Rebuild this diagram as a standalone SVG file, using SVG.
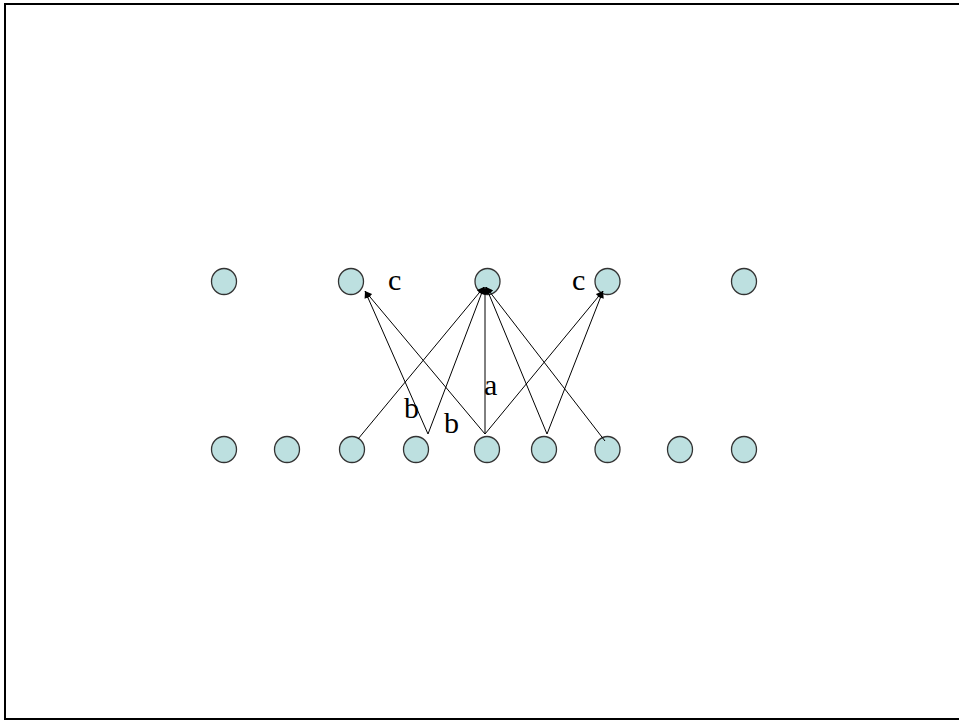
<svg xmlns="http://www.w3.org/2000/svg" width="959" height="720" viewBox="0 0 959 720">
<style>
.n{fill:#bde0e0;stroke:#333;stroke-width:1.3}
.e{stroke:#000;stroke-width:1;fill:none}
.t{font-family:"Liberation Serif","Times New Roman",serif;font-size:30px;fill:#000}
</style>
<defs>
<marker id="ah" viewBox="0 0 10 10" refX="10" refY="5" markerWidth="9" markerHeight="7" markerUnits="userSpaceOnUse" orient="auto">
<path d="M0,0 L10,5 L0,10 z" fill="#000"/>
</marker>
</defs>
<rect x="5" y="4" width="960" height="715" fill="#fff" stroke="#000" stroke-width="2"/>
<g id="nodes">
<g id="t1"><ellipse class="n" cx="224" cy="281.5" rx="12.5" ry="13"/></g>
<g id="t2"><ellipse class="n" cx="351" cy="281.5" rx="12.5" ry="13"/></g>
<g id="t3"><ellipse class="n" cx="487.5" cy="281.5" rx="12.5" ry="13"/></g>
<g id="t4"><ellipse class="n" cx="607.5" cy="281.5" rx="12.5" ry="13"/></g>
<g id="t5"><ellipse class="n" cx="744" cy="281.5" rx="12.5" ry="13"/></g>
<g id="b1"><ellipse class="n" cx="224" cy="449.5" rx="12.5" ry="13"/></g>
<g id="b2"><ellipse class="n" cx="287" cy="449.5" rx="12.5" ry="13"/></g>
<g id="b3"><ellipse class="n" cx="352" cy="449.5" rx="12.5" ry="13"/></g>
<g id="b4"><ellipse class="n" cx="416" cy="449.5" rx="12.5" ry="13"/></g>
<g id="b5"><ellipse class="n" cx="487" cy="449.5" rx="12.5" ry="13"/></g>
<g id="b6"><ellipse class="n" cx="544" cy="449.5" rx="12.5" ry="13"/></g>
<g id="b7"><ellipse class="n" cx="607.5" cy="449.5" rx="12.5" ry="13"/></g>
<g id="b8"><ellipse class="n" cx="680" cy="449.5" rx="12.5" ry="13"/></g>
<g id="b9"><ellipse class="n" cx="744" cy="449.5" rx="12.5" ry="13"/></g>
</g>
<g id="connectors">
<line class="e" x1="358" y1="439" x2="484" y2="287" marker-end="url(#ah)"/>
<line class="e" x1="428" y1="434" x2="365" y2="291" marker-end="url(#ah)"/>
<line class="e" x1="428" y1="434" x2="484" y2="287" marker-end="url(#ah)"/>
<line class="e" x1="485" y1="434" x2="485" y2="287" marker-end="url(#ah)"/>
<line class="e" x1="485" y1="434" x2="365" y2="291" marker-end="url(#ah)"/>
<line class="e" x1="485" y1="434" x2="603" y2="291" marker-end="url(#ah)"/>
<line class="e" x1="547" y1="434" x2="486" y2="287" marker-end="url(#ah)"/>
<line class="e" x1="547" y1="434" x2="603" y2="291" marker-end="url(#ah)"/>
<line class="e" x1="605" y1="441" x2="486" y2="287" marker-end="url(#ah)"/>
</g>
<g id="labels">
<text class="t" x="388" y="290">c</text>
<text class="t" x="572" y="290">c</text>
<text class="t" x="484" y="395">a</text>
<text class="t" x="404" y="418">b</text>
<text class="t" x="444" y="433">b</text>
</g>
</svg>
